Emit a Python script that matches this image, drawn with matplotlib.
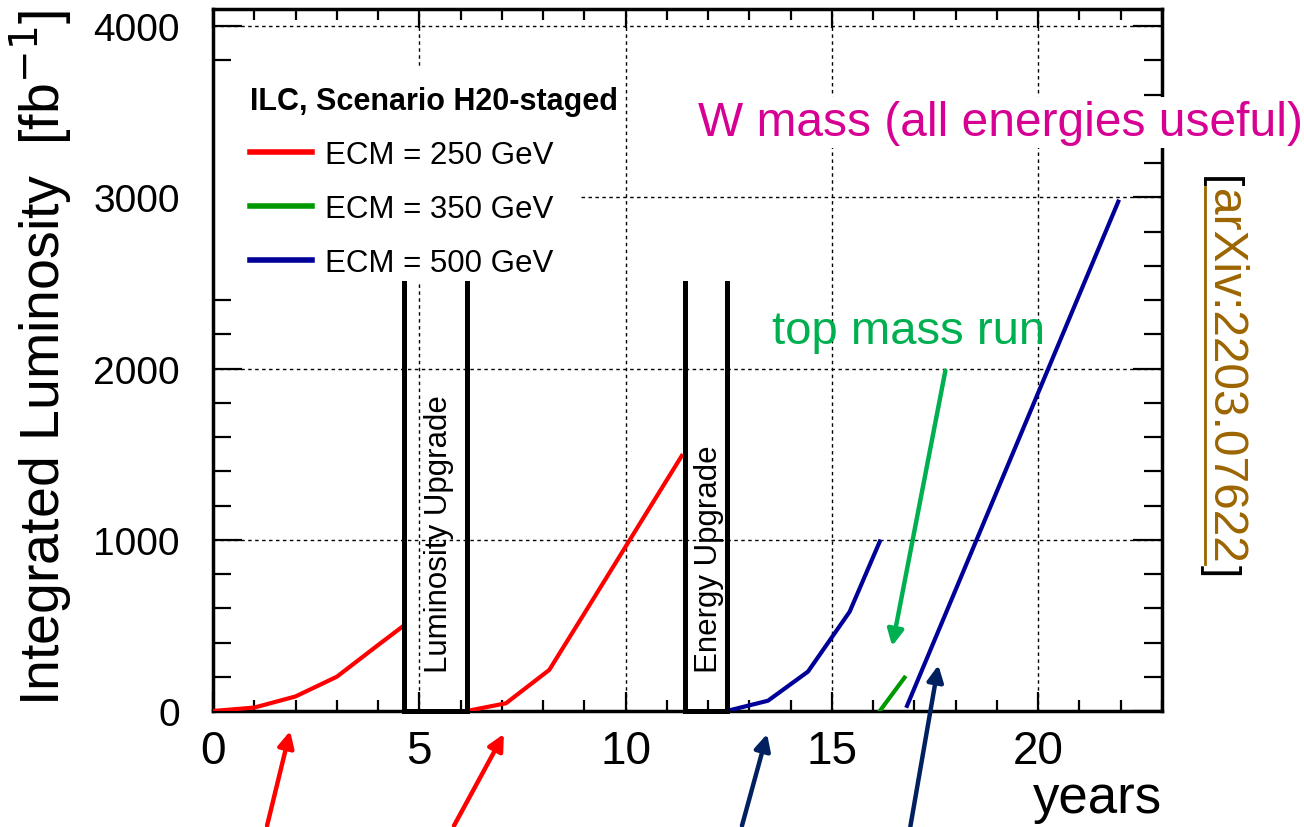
import numpy as np
import matplotlib.pyplot as plt
from matplotlib.lines import Line2D
from matplotlib.patches import Rectangle
from matplotlib.ticker import MultipleLocator

plt.rcParams['font.family'] = ['Liberation Sans', 'DejaVu Sans']

# ILC H20-staged running scenario (years, integrated luminosity in fb^-1)
x_250a = [0, 1, 2, 3, 4, 4.63]
y_250a = [0, 20, 85, 200, 385, 500]
x_250b = [6.15, 7.1, 8.15, 9, 10, 11.36]
y_250b = [0, 45, 240, 570, 960, 1490]
x_500a = [12.45, 13.45, 14.42, 15.43, 16.16]
y_500a = [0, 60, 230, 580, 990]
x_350 = [16.16, 16.76]
y_350 = [0, 195]
x_500b = [16.82, 21.94]
y_500b = [30, 2975]

# shutdown periods (start, end) and their labels
upgrades = [(4.63, 6.15), (11.44, 12.45)]
upgrade_labels = ["Luminosity Upgrade", "Energy Upgrade"]
upgrade_top = 2500

legend_labels = ["ECM = 250 GeV", "ECM = 350 GeV", "ECM = 500 GeV"]
c_red, c_green, c_blue = '#ff0000', '#009a00', '#000099'

# annotation arrows (tail, head) in data coordinates
arrows_tail = [(1.31, -670), (5.84, -670), (12.82, -670), (16.9, -676), (17.75, 1988)]
arrows_head = [(1.87, -117), (7.05, -134), (13.43, -134), (17.58, 268), (16.46, 379)]
arrows_col = ['#ff0000', '#ff0000', '#002060', '#002060', '#00b050']

fig = plt.figure(figsize=(13.04, 8.28), dpi=100)
ax = fig.add_axes([213/1304, 1-712/828, (1162-213)/1304, (712-10)/828])

ax.plot(x_250a, y_250a, color=c_red, lw=3, zorder=3)
ax.plot(x_250b, y_250b, color=c_red, lw=3, zorder=3)
ax.plot(x_500a, y_500a, color=c_blue, lw=3, zorder=3)
ax.plot(x_350, y_350, color=c_green, lw=3, zorder=3)
ax.plot(x_500b, y_500b, color=c_blue, lw=3, zorder=3)

for (x0, x1), lab in zip(upgrades, upgrade_labels):
    ax.plot([x0, x0], [0, upgrade_top], color='black', lw=3.6, zorder=7)
    ax.plot([x1, x1], [0, upgrade_top], color='black', lw=3.6, zorder=7)
    ax.plot([x0, x1], [0, 0], color='black', lw=3.6, zorder=7, clip_on=False)
    ax.text((x0 + x1) / 2 + 0.08, 230, lab, rotation=90, ha='center', va='bottom',
            fontsize=22.5, zorder=5)

ax.set_xlim(0, 23)
ax.set_ylim(0, 4100)
ax.xaxis.set_major_locator(MultipleLocator(5))
ax.xaxis.set_minor_locator(MultipleLocator(1))
ax.yaxis.set_major_locator(MultipleLocator(1000))
ax.yaxis.set_minor_locator(MultipleLocator(200))
ax.grid(True, which='major', color='black', lw=1.0, linestyle=(0, (2.5, 2.5)))
ax.set_axisbelow(True)

ax.tick_params(which='both', direction='in', top=True, right=True, width=1.6)
ax.tick_params(axis='x', which='major', length=14, labelsize=33, pad=13)
ax.tick_params(axis='x', which='minor', length=8)
ax.tick_params(axis='y', which='major', length=21, labelsize=28, pad=24)
ax.tick_params(axis='y', which='minor', length=13)
for s in ax.spines.values():
    s.set_linewidth(2.5)

ax.set_xlabel("years", fontsize=38)
ax.xaxis.label.set_horizontalalignment('right')
ax.xaxis.label.set_verticalalignment('baseline')
ax.xaxis.set_label_coords(1.0, (712 - 813) / 702)
ax.set_ylabel("Integrated Luminosity  [fb$^{-1}$]", fontsize=40, loc='top', labelpad=14)

# white legend pad (ROOT TLegend fill), narrower than its header
ax.add_patch(Rectangle((0.002, (712 - 285) / 702), (580 - 215) / 949, (285 - 68) / 702,
                       transform=ax.transAxes, facecolor='white', edgecolor='none',
                       zorder=2.5))

handles = [Line2D([], [], color=c, lw=4) for c in (c_red, c_green, c_blue)]
leg = ax.legend(handles, legend_labels, title="ILC, Scenario H20-staged",
                loc='upper left', bbox_to_anchor=(0.009, 0.93), fontsize=22.5,
                title_fontproperties={'weight': 'bold', 'size': 22},
                alignment='left', frameon=False, handlelength=2.0,
                handletextpad=0.4, labelspacing=0.76, borderpad=0.5,
                borderaxespad=0.4)
leg.set_zorder(6)

ax.text(11.76, 3364, "W mass (all energies useful)", color='#d60093', fontsize=34.5,
        va='baseline', ha='left', zorder=7, clip_on=False,
        bbox=dict(facecolor='white', edgecolor='none', pad=2))
ax.text(13.55, 2152, "top mass run", color='#00b050', fontsize=34,
        va='baseline', ha='left', zorder=7)

for t, h, c in zip(arrows_tail, arrows_head, arrows_col):
    ax.annotate("", xy=h, xytext=t, xycoords='data', textcoords='data',
                annotation_clip=False, zorder=8,
                arrowprops=dict(arrowstyle='-|>', color=c, lw=3.2,
                                mutation_scale=24, shrinkA=0, shrinkB=0))

# reference, rotated on the right
xr = 1212 / 1304
fig.text(xr, 1 - 376.5/828, "arXiv:2203.07622", rotation=-90, rotation_mode='anchor',
         ha='center', va='baseline', fontsize=34.5, color='#9c6500')
fig.text(xr - 3/1304, 1 - 188/828, "[", rotation=-90, rotation_mode='anchor',
         ha='right', va='baseline', fontsize=32, color='black')
fig.text(xr - 3/1304, 1 - 565/828, "]", rotation=-90, rotation_mode='anchor',
         ha='left', va='baseline', fontsize=32, color='black')
fig.add_artist(Line2D([1205/1304, 1205/1304], [1 - 188/828, 1 - 565/828],
                      color='#9c6500', lw=2))

fig.savefig("out.png", dpi=100)
